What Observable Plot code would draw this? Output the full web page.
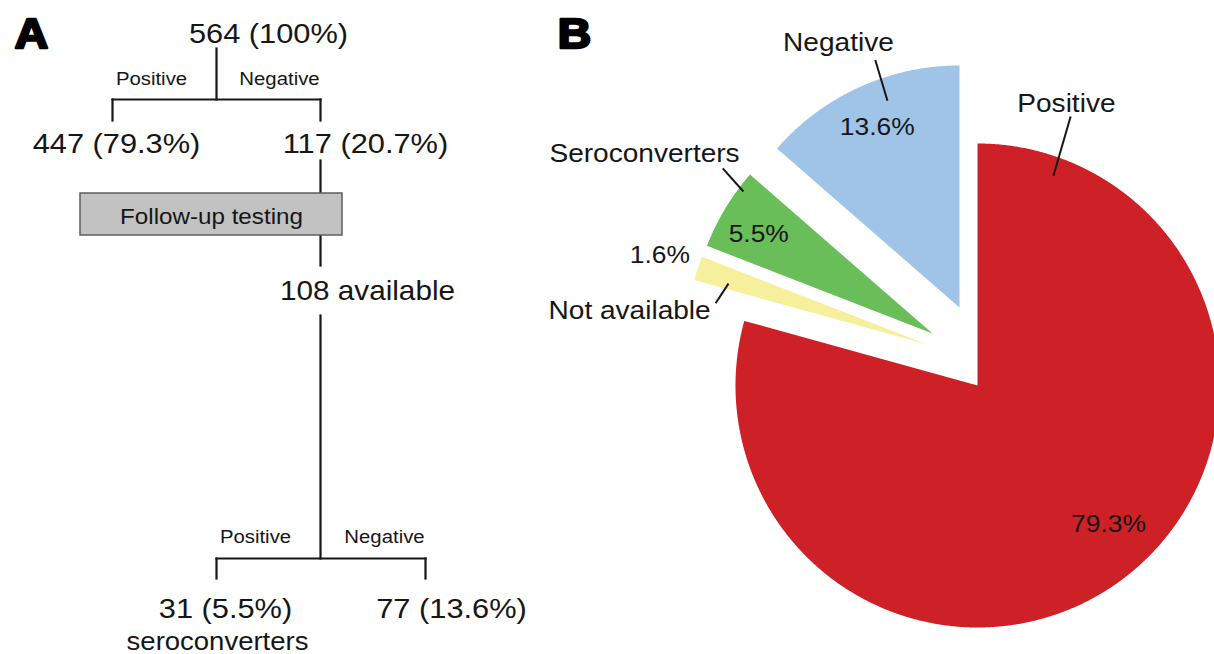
<!DOCTYPE html>
<html>
<head>
<meta charset="utf-8">
<script src="https://cdn.jsdelivr.net/npm/d3@7"></script>
<script src="https://cdn.jsdelivr.net/npm/@observablehq/plot@0.6"></script>
<style>
  html, body { margin: 0; padding: 0; background: #fff; }
  #chart svg { display: block; }
</style>
</head>
<body>
<div id="chart"></div>
<script>
// ---------------- DATA ----------------
// Panel A: testing flow
const flowNodes   = ["Tested", "Positive", "Negative", "Available", "Seroconverters", "Still negative"];
const flowCounts  = [564, 447, 117, 108, 31, 77];
const flowShares  = [100, 79.3, 20.7, null, 5.5, 13.6];
const branchLabels = ["Positive", "Negative"];
const stepLabel   = "Follow-up testing";
const availableWord = "available";
const seroWord    = "seroconverters";
const panelLetters = ["A", "B"];

// Panel B: pie shares (%)
const pieCategories = ["Positive", "Not available", "Seroconverters", "Negative"];
const pieValues     = [79.3, 1.6, 5.5, 13.6];

// ---------------- LAYOUT / STYLE ----------------
const W = 1214, H = 654;
const STRETCH = 1.1;             // horizontal glyph stretch of the original lettering
const FONT = "Liberation Sans, Arial, Helvetica, sans-serif";
const ink = "#161616";

// Panel A layout
const flowPos = [[268, 34], [116, 144], [365, 144], [367, 291], [225, 609], [451, 609]];
const stemX = 216, splitX = 320, leftX1 = 112, rightX2 = 425;
const bar1Y = 99, tick1Y = 120, bar2Y = 558, tick2Y = 578;
const box = {x1: 80, x2: 342, y1: 193, y2: 235};
const branchPos = [[[151, 79], [279, 79]], [[255, 537], [384, 537]]];

const segments = [
  [stemX, 48, stemX, bar1Y],
  [leftX1, bar1Y, splitX, bar1Y],
  [leftX1, bar1Y, leftX1, tick1Y],
  [splitX, bar1Y, splitX, tick1Y],
  [splitX, 160, splitX, box.y1],
  [splitX, box.y2, splitX, 265],
  [splitX, 315, splitX, bar2Y],
  [stemX, bar2Y, rightX2, bar2Y],
  [stemX, bar2Y, stemX, tick2Y],
  [rightX2, bar2Y, rightX2, tick2Y]
].map(([x1, y1, x2, y2]) => ({x1, y1, x2, y2}));

const flowText = flowCounts.map((c, i) =>
  i === 3 ? `${c} ${availableWord}` : `${c} (${flowShares[i]}%)`);

const flowLabels = flowText.map((t, i) => ({text: t, x: flowPos[i][0], y: flowPos[i][1], size: i === 3 ? 27 : 28}));
flowLabels.push({text: seroWord, x: 217, y: 641, size: 25});
flowLabels.push({text: stepLabel, x: (box.x1 + box.x2) / 2, y: 216, size: 22});
branchPos.forEach(pair => pair.forEach((p, j) =>
  flowLabels.push({text: branchLabels[j], x: p[0], y: p[1], size: 18.5})));

// Panel B layout
const pieCenter = [977, 385], pieR = 242;
const explode = {"Positive": [0, 0], "Not available": [-50, -41], "Seroconverters": [-45, -52], "Negative": [-18, -78]};
const pieColors = ["#cd2027", "#f6f09c", "#6abe5a", "#9fc4e8"];
// percent labels: radius factor + angle nudge (deg)
const pctPlace = {"Positive": [0.79, -6], "Not available": [1.165, 0], "Seroconverters": [0.827, -1.4], "Negative": [0.82, 0]};
// name labels: [label f, label deg, leader f1, deg1, leader f2, deg2]
const namePlace = {
  "Positive":       [1.222, 17.5, 0.922, 19.9, 1.176, 19.1],
  "Not available":  [1.239, 276.5, 0.86, 287.0, 0.892, 281.0],
  "Seroconverters": [1.403, 302.0, 0.977, 306.9, 1.103, 308.2],
  "Negative":       [1.204, 335.45, 0.905, 340.8, 1.08, 341.2]
};

// ---------------- GEOMETRY FROM VALUES ----------------
const arcs = d3.pie().sort(null).value(d => d)(pieValues).map((a, i) => {
  const cat = pieCategories[i];
  return {...a, cat, value: pieValues[i], cx: pieCenter[0] + explode[cat][0], cy: pieCenter[1] + explode[cat][1]};
});
const rad = d => d * Math.PI / 180;
const polar = (a, f, ang) => [a.cx + f * pieR * Math.sin(ang), a.cy - f * pieR * Math.cos(ang)];

const slicePts = arcs.flatMap(a => {
  const n = Math.max(4, Math.ceil((a.endAngle - a.startAngle) / 0.005));
  const pts = [{cat: a.cat, x: a.cx, y: a.cy}];
  for (let k = 0; k <= n; k++) {
    const t = a.startAngle + (a.endAngle - a.startAngle) * k / n;
    const [x, y] = polar(a, 1, t);
    pts.push({cat: a.cat, x, y});
  }
  pts.push({cat: a.cat, x: a.cx, y: a.cy});
  return pts;
});

const pctLabels = arcs.map(a => {
  const [f, nudge] = pctPlace[a.cat];
  const [x, y] = polar(a, f, (a.startAngle + a.endAngle) / 2 + rad(nudge));
  return {text: `${a.value}%`, x, y};
});
const nameLabels = arcs.map(a => {
  const p = namePlace[a.cat];
  const [x, y] = polar(a, p[0], rad(p[1]));
  return {text: a.cat, x, y};
});
const leaders = arcs.map(a => {
  const p = namePlace[a.cat];
  const [x1, y1] = polar(a, p[2], rad(p[3]));
  const [x2, y2] = polar(a, p[4], rad(p[5]));
  return {x1, y1, x2, y2};
});

const letters = [{text: panelLetters[0], x: 31, y: 34}, {text: panelLetters[1], x: 574, y: 34}];

// ---------------- PLOT ----------------
const chart = Plot.plot({
  width: W, height: H, margin: 0,
  x: {domain: [0, W], range: [0, W], axis: null},
  y: {domain: [0, H], range: [0, H], axis: null},
  color: {type: "ordinal", domain: pieCategories, range: pieColors},
  style: {fontFamily: FONT, background: "#fff", color: ink},
  marks: [
    // Panel A
    Plot.link(segments, {x1: "x1", y1: "y1", x2: "x2", y2: "y2", stroke: ink, strokeWidth: 2.2, strokeLinecap: "square"}),
    Plot.rect([box], {x1: "x1", x2: "x2", y1: "y1", y2: "y2", fill: "#c2c2c2", stroke: "#5e5e5e", strokeWidth: 1.5}),
    Plot.text(flowLabels, {x: "x", y: "y", text: "text", fontSize: "size", fill: ink, textAnchor: "middle", lineAnchor: "middle"}),
    // Panel B
    Plot.line(slicePts, {x: "x", y: "y", z: "cat", fill: "cat", stroke: "none", curve: "linear"}),
    Plot.link(leaders, {x1: "x1", y1: "y1", x2: "x2", y2: "y2", stroke: ink, strokeWidth: 2}),
    Plot.text(pctLabels, {x: "x", y: "y", text: "text", fontSize: 24, fill: ink, textAnchor: "middle", lineAnchor: "middle"}),
    Plot.text(nameLabels, {x: "x", y: "y", text: "text", fontSize: 25.5, fill: ink, textAnchor: "middle", lineAnchor: "middle"}),
    // panel letters
    Plot.text(letters, {x: "x", y: "y", text: "text", fontSize: 42, fontWeight: 900, fill: "#000", stroke: "#000", strokeWidth: 2.5, textAnchor: "middle", lineAnchor: "middle"})
  ]
});

// stretch glyphs horizontally like the original lettering
chart.querySelectorAll("text").forEach(t => {
  const tr = t.getAttribute("transform");
  if (tr && tr.includes("translate")) t.setAttribute("transform", `${tr} scale(${STRETCH},1)`);
});

document.getElementById("chart").append(chart);
</script>
</body>
</html>
